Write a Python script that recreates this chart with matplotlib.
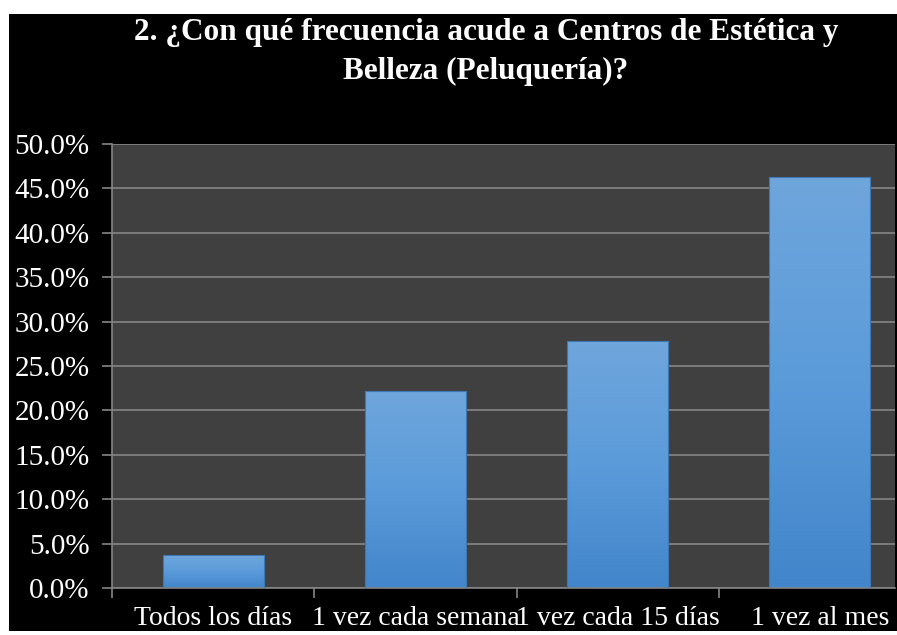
import matplotlib.pyplot as plt
import numpy as np
from matplotlib.patches import Rectangle
from matplotlib.colors import LinearSegmentedColormap

# data
categories = ["Todos los días", "1 vez cada semana", "1 vez cada 15 días", "1 vez al mes"]
values = [3.7, 22.2, 27.8, 46.3]
yticks = np.arange(0, 50.1, 5)
title = "2. ¿Con qué frecuencia acude a Centros de Estética y\nBelleza (Peluquería)?"

W, H = 897, 635
plt.rcParams["font.family"] = ["Liberation Serif", "DejaVu Serif"]

fig = plt.figure(figsize=(W / 100, H / 100), dpi=100, facecolor="white")
# black chart area with the thin white border of the screenshot
fig.patches.append(Rectangle((9 / W, 4 / H), 1, 617 / H, transform=fig.transFigure,
                             facecolor="black", edgecolor="none", zorder=-10))

ax = fig.add_axes([112 / W, 47 / H, 783 / W, 444 / H])
ax.set_facecolor("#404040")

grey = "#858585"
cmap = LinearSegmentedColormap.from_list("bar", ["#4285CA", "#5B9BDA", "#6FA6DC"])
grad = np.linspace(0, 1, 256).reshape(-1, 1)
x = np.arange(len(categories))
bars = ax.bar(x, values, width=0.5, color="none", edgecolor="#3d78b5", linewidth=0.8, zorder=3)
for b in bars:
    x0, y0 = b.get_x(), b.get_y()
    im = ax.imshow(grad, cmap=cmap, origin="lower", aspect="auto", zorder=2,
                   extent=(x0, x0 + b.get_width(), y0, y0 + b.get_height()))
    im.set_clip_path(b)

ax.set_xlim(-0.5, 3.5 - 26 / 202)
ax.set_ylim(0, 50)
ax.set_yticks(yticks)
ax.set_yticklabels([f"{v:.1f}%" for v in yticks])
ax.yaxis.grid(True, color=grey, linewidth=1.2, zorder=1)
ax.set_axisbelow(True)

ax.set_xticks(x)
ax.set_xticklabels(categories)
ax.set_xticks(np.arange(-0.5, 3.5, 1), minor=True)
ax.tick_params(axis="x", which="major", length=0, pad=13, labelsize=20, labelcolor="white")
ax.tick_params(axis="x", which="minor", length=7, width=1.2, color=grey)
ax.tick_params(axis="y", length=7, width=1.2, color=grey, pad=9, labelsize=21, labelcolor="white")

for s in ["top", "right"]:
    ax.spines[s].set_visible(False)
for s in ["left", "bottom"]:
    ax.spines[s].set_color(grey)
    ax.spines[s].set_linewidth(1.2)

fig.text(486 / W, 1 - 18 / H, title, ha="center", va="top", color="white",
         fontsize=22.5, fontweight="bold", linespacing=1.45)

fig.savefig("out.png", dpi=100, facecolor="white")
